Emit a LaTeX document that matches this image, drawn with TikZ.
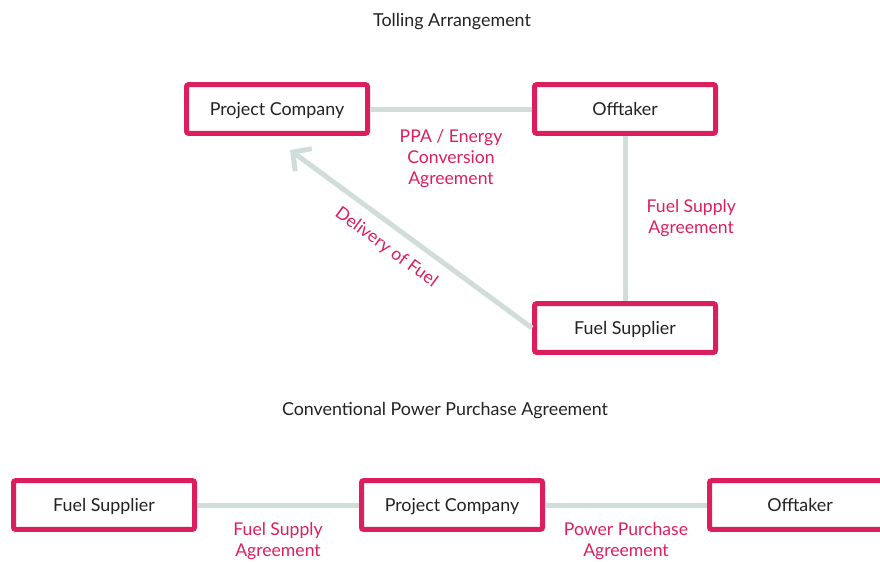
\documentclass[tikz,border=0pt]{standalone}
\usepackage{fontspec}
\setmainfont{Lato}
\usepackage{xcolor}
\usepackage{tikz}
\usetikzlibrary{arrows.meta,calc,positioning}

\definecolor{boxpink}{RGB}{219,31,94}
\definecolor{linkgrey}{RGB}{208,221,219}
\definecolor{textgrey}{RGB}{35,35,35}

\begin{document}

\begin{tikzpicture} [x=0.75pt, y=-0.75pt, node distance=261pt,
	box/.style={draw=boxpink, line width=3.75pt, rounded corners=1.5pt, fill=white, minimum width=135.75pt, minimum height=36.5pt, text height=11pt, text depth=1.5pt, text=textgrey, font=\fontsize{13.4}{16}\selectfont},
	link/.style={draw=linkgrey, line width=3.75pt},
	lbl/.style={text=boxpink, align=center, font=\fontsize{13.2}{15.75}\selectfont},
	heading/.style={text=textgrey, font=\fontsize{13.4}{16}\selectfont}]
	 	
	 	\useasboundingbox (0,0) rectangle (880,561);
	 	
	 	\begin{scope}
	 	
	 	\node (title_T) [heading] at (452,22) {Tolling Arrangement};
	 	
	 	\node (PC_T) [box] at (277,109) {Project Company};
	 	
	 	\node (O_T) [box, right of= PC_T] {Offtaker};
	 	
	 	\node (FS_T) [box, below of= O_T, node distance=164.25pt] {Fuel Supplier};
	 	
	 	\coordinate (fuel_tip) at ($(PC_T) + (13,41)$);
	 	
	 	
	 	\draw [link] (PC_T.east) to node[lbl, below=10pt] {PPA / Energy\\Conversion\\Agreement} (O_T.west);
	 	
	 	\draw [link] (O_T.south) to node[lbl, right=11pt] {Fuel Supply\\Agreement} (FS_T.north);
	 	
	 	\draw [link, -{Straight Barb[length=10pt,width=21pt]}] (FS_T.west) to node[lbl, sloped, pos=0.55, below=5pt] {Delivery of Fuel} (fuel_tip);
	 	
	 	\end{scope}
	 	
	 	
	 	
	 	\begin{scope}
	 	
	 	\node (title_C) [heading] at (445,411) {Conventional Power Purchase Agreement};
	 	
	 	\node (FS_C) [box] at (104,505) {Fuel Supplier};
	 	
	 	\node (PC_C) [box, right of= FS_C] {Project Company};
	 	
	 	\node (O_C) [box, right of= PC_C] {Offtaker};
	 	
	 	
	 	\draw [link] (FS_C.east) to node[lbl, below=9pt, inner sep=2pt] {Fuel Supply\\Agreement} (PC_C.west);
	 	
	 	\draw [link] (PC_C.east) to node[lbl, below=9pt, inner sep=2pt] {Power Purchase\\Agreement} (O_C.west);
	 	
	 	\end{scope}
	 	
\end{tikzpicture}

\end{document}
